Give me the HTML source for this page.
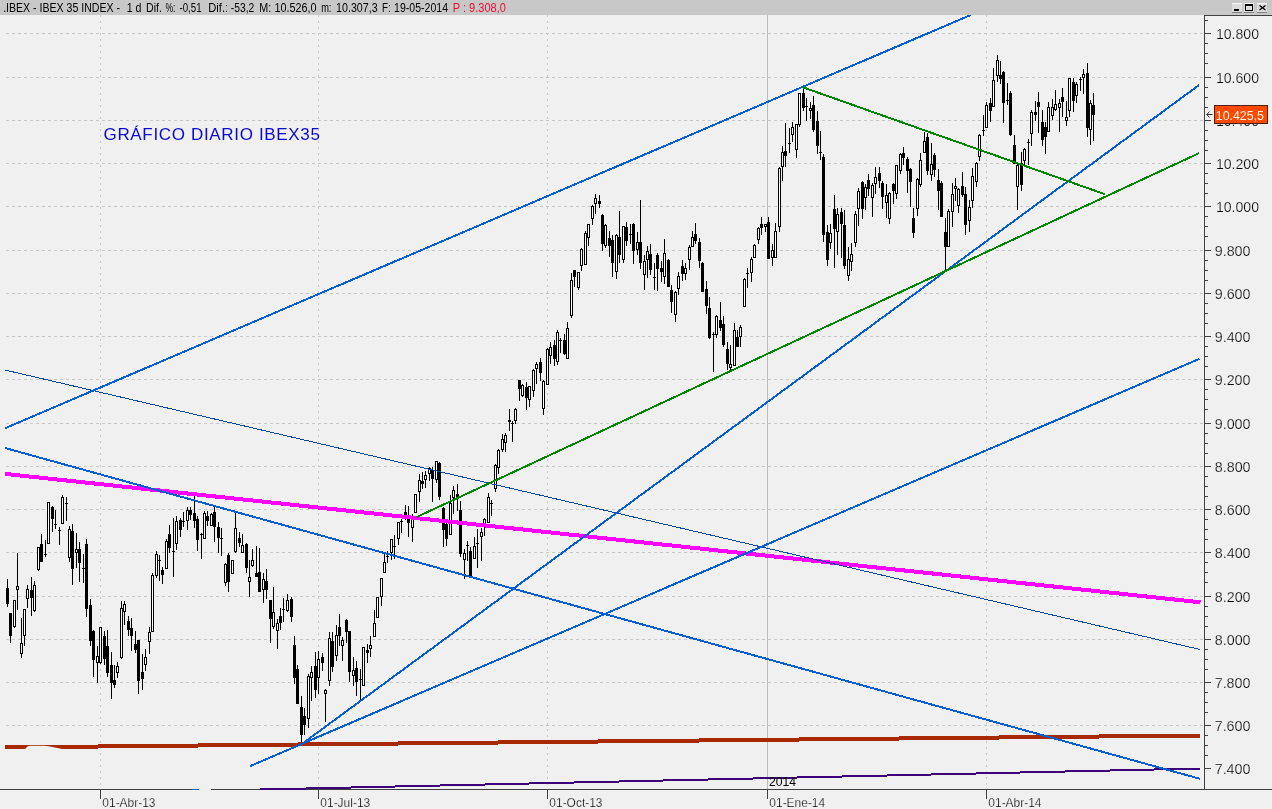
<!DOCTYPE html><html><head><meta charset="utf-8"><title>IBEX 35</title><style>
html,body{margin:0;padding:0;background:#f0f0f0;}
body{width:1272px;height:809px;overflow:hidden;position:relative;}
svg{position:absolute;left:0;top:0;display:block;}
text{font-family:'Liberation Sans', Arial, sans-serif;}
</style></head><body>
<svg width="1272" height="809" viewBox="0 0 1272 809">
<rect x="0" y="0" width="1272" height="809" fill="#f0f0f0"/>
<g stroke="#c8c8c8" stroke-width="1" shape-rendering="crispEdges">
<line x1="6" y1="33.5" x2="1204" y2="33.5" stroke-dasharray="3 3"/>
<line x1="6" y1="77.5" x2="1204" y2="77.5" stroke-dasharray="3 3"/>
<line x1="6" y1="120.5" x2="1204" y2="120.5" stroke-dasharray="3 3"/>
<line x1="6" y1="163.5" x2="1204" y2="163.5" stroke-dasharray="3 3"/>
<line x1="6" y1="206.5" x2="1204" y2="206.5" stroke-dasharray="3 3"/>
<line x1="6" y1="250.5" x2="1204" y2="250.5" stroke-dasharray="3 3"/>
<line x1="6" y1="293.5" x2="1204" y2="293.5" stroke-dasharray="3 3"/>
<line x1="6" y1="336.5" x2="1204" y2="336.5" stroke-dasharray="3 3"/>
<line x1="6" y1="379.5" x2="1204" y2="379.5" stroke-dasharray="3 3"/>
<line x1="6" y1="423.5" x2="1204" y2="423.5" stroke-dasharray="3 3"/>
<line x1="6" y1="466.5" x2="1204" y2="466.5" stroke-dasharray="3 3"/>
<line x1="6" y1="509.5" x2="1204" y2="509.5" stroke-dasharray="3 3"/>
<line x1="6" y1="552.5" x2="1204" y2="552.5" stroke-dasharray="3 3"/>
<line x1="6" y1="596.5" x2="1204" y2="596.5" stroke-dasharray="3 3"/>
<line x1="6" y1="639.5" x2="1204" y2="639.5" stroke-dasharray="3 3"/>
<line x1="6" y1="682.5" x2="1204" y2="682.5" stroke-dasharray="3 3"/>
<line x1="6" y1="725.5" x2="1204" y2="725.5" stroke-dasharray="3 3"/>
<line x1="100.5" y1="15" x2="100.5" y2="789" stroke-dasharray="2 4"/>
<line x1="318.5" y1="15" x2="318.5" y2="789" stroke-dasharray="2 4"/>
<line x1="547.5" y1="15" x2="547.5" y2="789" stroke-dasharray="2 4"/>
<line x1="986.5" y1="15" x2="986.5" y2="789" stroke-dasharray="2 4"/>
</g>
<rect x="767" y="15" width="1" height="774" fill="#bcbcbc" shape-rendering="crispEdges"/>
<g shape-rendering="crispEdges">
<path fill="#000" d="M7 579h1v28h-1zM6 588h3v16h-3zM10 613h1v30h-1zM9 613h3v23h-3zM14 600h1v28h-1zM13 600h3v27h-3zM17 553h1v57h-1zM16 586h3v4h-3zM21 618h1v40h-1zM20 643h3v11h-3zM24 609h1v37h-1zM23 609h3v27h-3zM27 585h1v23h-1zM26 589h3v10h-3zM31 577h1v39h-1zM30 590h3v8h-3zM34 581h1v31h-1zM33 585h3v26h-3zM38 547h1v24h-1zM37 547h3v23h-3zM41 534h1v28h-1zM40 544h3v18h-3zM45 540h1v17h-1zM44 554h3v1h-3zM48 502h1v42h-1zM47 502h3v42h-3zM52 506h1v26h-1zM51 507h3v12h-3zM55 510h1v19h-1zM54 524h3v1h-3zM59 527h1v18h-1zM58 530h3v1h-3zM62 495h1v29h-1zM61 497h3v27h-3zM66 497h1v24h-1zM65 503h3v1h-3zM69 526h1v36h-1zM68 529h3v29h-3zM72 524h1v61h-1zM71 531h3v38h-3zM76 533h1v35h-1zM75 549h3v4h-3zM79 542h1v40h-1zM78 549h3v14h-3zM83 554h1v29h-1zM82 568h3v1h-3zM86 539h1v78h-1zM85 544h3v65h-3zM90 599h1v47h-1zM89 605h3v36h-3zM93 630h1v47h-1zM92 631h3v29h-3zM97 646h1v37h-1zM96 656h3v7h-3zM100 627h1v37h-1zM99 627h3v36h-3zM104 631h1v34h-1zM103 636h3v23h-3zM107 630h1v47h-1zM106 646h3v27h-3zM111 652h1v47h-1zM110 665h3v18h-3zM114 665h1v23h-1zM113 680h3v5h-3zM117 662h1v16h-1zM116 666h3v7h-3zM121 601h1v58h-1zM120 608h3v50h-3zM124 601h1v24h-1zM123 604h3v8h-3zM128 616h1v20h-1zM127 621h3v9h-3zM131 618h1v33h-1zM130 628h3v8h-3zM135 631h1v22h-1zM134 644h3v6h-3zM138 640h1v54h-1zM137 640h3v41h-3zM142 654h1v36h-1zM141 672h3v7h-3zM145 649h1v22h-1zM144 657h3v8h-3zM149 627h1v27h-1zM148 632h3v10h-3zM152 573h1v59h-1zM151 575h3v57h-3zM156 551h1v27h-1zM155 554h3v22h-3zM159 555h1v26h-1zM158 560h3v1h-3zM162 567h1v17h-1zM161 570h3v5h-3zM166 539h1v30h-1zM165 541h3v28h-3zM169 525h1v28h-1zM168 534h3v14h-3zM173 518h1v59h-1zM172 551h3v1h-3zM176 516h1v34h-1zM175 521h3v23h-3zM180 518h1v19h-1zM179 520h3v10h-3zM183 512h1v15h-1zM182 521h3v1h-3zM187 507h1v23h-1zM186 510h3v11h-3zM190 507h1v13h-1zM189 510h3v5h-3zM194 496h1v32h-1zM193 513h3v8h-3zM197 516h1v35h-1zM196 519h3v21h-3zM201 533h1v26h-1zM200 534h3v1h-3zM204 511h1v28h-1zM203 513h3v26h-3zM207 511h1v15h-1zM206 516h3v5h-3zM211 513h1v13h-1zM210 514h3v12h-3zM214 506h1v36h-1zM213 512h3v15h-3zM218 522h1v31h-1zM217 527h3v11h-3zM221 528h1v28h-1zM220 538h3v1h-3zM225 563h1v23h-1zM224 564h3v19h-3zM228 553h1v39h-1zM227 555h3v27h-3zM232 560h1v14h-1zM231 560h3v14h-3zM235 513h1v40h-1zM234 528h3v24h-3zM239 532h1v15h-1zM238 538h3v5h-3zM242 534h1v19h-1zM241 545h3v8h-3zM246 543h1v30h-1zM245 544h3v24h-3zM249 560h1v37h-1zM248 577h3v5h-3zM252 549h1v18h-1zM251 560h3v6h-3zM256 546h1v31h-1zM255 573h3v4h-3zM259 548h1v44h-1zM258 572h3v20h-3zM263 573h1v30h-1zM262 579h3v11h-3zM266 569h1v30h-1zM265 581h3v9h-3zM270 600h1v43h-1zM269 600h3v19h-3zM273 587h1v42h-1zM272 612h3v15h-3zM277 619h1v30h-1zM276 623h3v8h-3zM280 608h1v22h-1zM279 616h3v7h-3zM283 598h1v24h-1zM282 609h3v1h-3zM287 594h1v18h-1zM286 600h3v11h-3zM291 597h1v25h-1zM290 599h3v18h-3zM294 636h1v48h-1zM293 645h3v33h-3zM297 665h1v39h-1zM296 669h3v35h-3zM301 696h1v47h-1zM300 707h3v28h-3zM304 708h1v27h-1zM303 716h3v9h-3zM308 674h1v54h-1zM307 676h3v43h-3zM311 666h1v35h-1zM310 672h3v6h-3zM315 652h1v46h-1zM314 666h3v24h-3zM318 651h1v43h-1zM317 659h3v19h-3zM322 653h1v18h-1zM321 657h3v6h-3zM325 689h1v33h-1zM324 690h3v4h-3zM329 632h1v54h-1zM328 638h3v43h-3zM332 632h1v40h-1zM331 641h3v26h-3zM336 625h1v36h-1zM335 635h3v21h-3zM339 614h1v32h-1zM338 627h3v9h-3zM342 637h1v24h-1zM341 640h3v6h-3zM346 619h1v24h-1zM345 620h3v12h-3zM349 631h1v51h-1zM348 631h3v41h-3zM353 657h1v29h-1zM352 670h3v6h-3zM356 661h1v35h-1zM355 668h3v14h-3zM360 669h1v31h-1zM359 679h3v1h-3zM363 647h1v39h-1zM362 647h3v39h-3zM367 644h1v19h-1zM366 650h3v3h-3zM370 636h1v21h-1zM369 645h3v4h-3zM374 610h1v27h-1zM373 623h3v14h-3zM377 597h1v21h-1zM376 597h3v21h-3zM381 578h1v28h-1zM380 578h3v19h-3zM384 553h1v20h-1zM383 562h3v11h-3zM387 551h1v12h-1zM386 556h3v1h-3zM391 539h1v21h-1zM390 539h3v14h-3zM394 535h1v24h-1zM393 546h3v1h-3zM398 522h1v23h-1zM397 522h3v17h-3zM401 519h1v14h-1zM400 521h3v1h-3zM405 505h1v15h-1zM404 512h3v3h-3zM408 506h1v31h-1zM407 518h3v5h-3zM412 514h1v28h-1zM411 519h3v9h-3zM415 494h1v19h-1zM414 494h3v19h-3zM419 474h1v28h-1zM418 480h3v12h-3zM422 472h1v17h-1zM421 481h3v3h-3zM425 471h1v17h-1zM424 475h3v5h-3zM429 467h1v14h-1zM428 468h3v6h-3zM432 467h1v35h-1zM431 470h3v9h-3zM436 461h1v22h-1zM435 461h3v19h-3zM439 462h1v38h-1zM438 463h3v34h-3zM443 507h1v40h-1zM442 508h3v22h-3zM446 519h1v27h-1zM445 524h3v15h-3zM450 495h1v40h-1zM449 503h3v32h-3zM453 486h1v28h-1zM452 490h3v8h-3zM457 484h1v27h-1zM456 494h3v3h-3zM460 501h1v56h-1zM459 510h3v44h-3zM464 549h1v30h-1zM463 553h3v7h-3zM467 541h1v20h-1zM466 545h3v1h-3zM470 547h1v30h-1zM469 551h3v25h-3zM474 537h1v22h-1zM473 546h3v13h-3zM477 529h1v39h-1zM476 543h3v1h-3zM481 528h1v33h-1zM480 532h3v5h-3zM484 518h1v18h-1zM483 519h3v5h-3zM488 493h1v30h-1zM487 497h3v26h-3zM491 500h1v16h-1zM490 503h3v1h-3zM495 464h1v28h-1zM494 465h3v24h-3zM498 449h1v25h-1zM497 450h3v18h-3zM502 434h1v18h-1zM501 439h3v11h-3zM505 433h1v19h-1zM504 435h3v8h-3zM509 409h1v22h-1zM508 420h3v2h-3zM512 421h1v21h-1zM511 423h3v1h-3zM515 408h1v16h-1zM514 409h3v12h-3zM519 380h1v21h-1zM518 380h3v9h-3zM522 384h1v13h-1zM521 385h3v11h-3zM526 382h1v28h-1zM525 387h3v11h-3zM529 386h1v21h-1zM528 386h3v14h-3zM533 369h1v28h-1zM532 370h3v21h-3zM536 362h1v22h-1zM535 364h3v5h-3zM540 358h1v23h-1zM539 362h3v11h-3zM543 380h1v35h-1zM542 381h3v28h-3zM547 348h1v37h-1zM546 349h3v36h-3zM550 342h1v22h-1zM549 347h3v9h-3zM554 340h1v26h-1zM553 345h3v14h-3zM557 330h1v35h-1zM556 332h3v30h-3zM560 338h1v15h-1zM559 340h3v1h-3zM564 334h1v21h-1zM563 340h3v14h-3zM567 322h1v37h-1zM566 328h3v31h-3zM571 273h1v45h-1zM570 280h3v36h-3zM574 270h1v17h-1zM573 270h3v7h-3zM578 272h1v18h-1zM577 272h3v16h-3zM581 248h1v23h-1zM580 249h3v17h-3zM585 231h1v34h-1zM584 233h3v32h-3zM588 224h1v22h-1zM587 224h3v14h-3zM592 205h1v20h-1zM591 206h3v13h-3zM595 194h1v20h-1zM594 198h3v6h-3zM599 195h1v13h-1zM598 201h3v3h-3zM602 214h1v37h-1zM601 215h3v29h-3zM605 224h1v24h-1zM604 225h3v21h-3zM609 231h1v26h-1zM608 238h3v8h-3zM612 235h1v42h-1zM611 240h3v23h-3zM616 234h1v45h-1zM615 235h3v37h-3zM619 211h1v52h-1zM618 237h3v18h-3zM623 226h1v37h-1zM622 226h3v34h-3zM626 222h1v24h-1zM625 227h3v14h-3zM630 224h1v20h-1zM629 234h3v1h-3zM633 223h1v41h-1zM632 224h3v27h-3zM637 232h1v23h-1zM636 242h3v8h-3zM640 200h1v69h-1zM639 242h3v21h-3zM644 255h1v35h-1zM643 261h3v14h-3zM647 246h1v32h-1zM646 251h3v9h-3zM650 244h1v31h-1zM649 254h3v16h-3zM654 263h1v27h-1zM653 277h3v1h-3zM657 253h1v38h-1zM656 255h3v14h-3zM661 261h1v21h-1zM660 268h3v4h-3zM664 239h1v45h-1zM663 253h3v24h-3zM668 259h1v28h-1zM667 260h3v27h-3zM671 285h1v28h-1zM670 290h3v12h-3zM675 291h1v31h-1zM674 292h3v23h-3zM678 272h1v23h-1zM677 276h3v13h-3zM682 260h1v21h-1zM681 266h3v8h-3zM685 263h1v17h-1zM684 268h3v6h-3zM689 245h1v25h-1zM688 247h3v13h-3zM692 231h1v16h-1zM691 237h3v10h-3zM695 223h1v21h-1zM694 234h3v7h-3zM699 238h1v30h-1zM698 242h3v19h-3zM702 262h1v30h-1zM701 263h3v29h-3zM706 281h1v33h-1zM705 289h3v17h-3zM709 297h1v42h-1zM708 308h3v30h-3zM713 332h1v40h-1zM712 334h3v1h-3zM716 315h1v23h-1zM715 316h3v19h-3zM720 302h1v29h-1zM719 320h3v8h-3zM723 316h1v31h-1zM722 324h3v21h-3zM727 342h1v28h-1zM726 349h3v15h-3zM730 345h1v27h-1zM729 364h3v4h-3zM734 323h1v43h-1zM733 330h3v36h-3zM737 330h1v17h-1zM736 337h3v10h-3zM740 325h1v22h-1zM739 327h3v10h-3zM744 278h1v29h-1zM743 279h3v28h-3zM747 268h1v20h-1zM746 273h3v1h-3zM751 257h1v25h-1zM750 259h3v14h-3zM754 244h1v14h-1zM753 245h3v13h-3zM758 227h1v17h-1zM757 228h3v12h-3zM761 217h1v18h-1zM760 224h3v4h-3zM765 224h1v8h-1zM764 224h3v3h-3zM768 217h1v42h-1zM767 222h3v37h-3zM772 244h1v22h-1zM771 250h3v8h-3zM775 223h1v35h-1zM774 231h3v27h-3zM779 167h1v65h-1zM778 168h3v59h-3zM782 146h1v35h-1zM781 152h3v15h-3zM785 123h1v44h-1zM784 151h3v5h-3zM789 128h1v25h-1zM788 143h3v1h-3zM792 122h1v20h-1zM791 127h3v8h-3zM796 124h1v34h-1zM795 124h3v26h-3zM799 93h1v34h-1zM798 93h3v32h-3zM803 88h1v23h-1zM802 93h3v15h-3zM806 98h1v23h-1zM805 106h3v1h-3zM810 102h1v17h-1zM809 108h3v3h-3zM813 96h1v36h-1zM812 105h3v25h-3zM817 111h1v43h-1zM816 121h3v25h-3zM820 131h1v29h-1zM819 152h3v1h-3zM823 154h1v88h-1zM822 157h3v78h-3zM827 225h1v41h-1zM826 232h3v28h-3zM830 224h1v25h-1zM829 233h3v10h-3zM834 195h1v73h-1zM833 209h3v20h-3zM837 208h1v47h-1zM836 214h3v18h-3zM841 208h1v50h-1zM840 212h3v12h-3zM844 210h1v59h-1zM843 225h3v41h-3zM848 247h1v34h-1zM847 259h3v17h-3zM851 243h1v28h-1zM850 254h3v8h-3zM855 211h1v36h-1zM854 214h3v29h-3zM858 188h1v38h-1zM857 191h3v18h-3zM862 181h1v38h-1zM861 182h3v27h-3zM865 184h1v26h-1zM864 187h3v11h-3zM868 174h1v22h-1zM867 180h3v9h-3zM872 183h1v34h-1zM871 185h3v13h-3zM875 167h1v27h-1zM874 177h3v7h-3zM879 167h1v21h-1zM878 173h3v8h-3zM882 181h1v28h-1zM881 183h3v14h-3zM886 184h1v34h-1zM885 195h3v8h-3zM889 192h1v32h-1zM888 193h3v26h-3zM893 183h1v21h-1zM892 184h3v7h-3zM896 165h1v34h-1zM895 165h3v29h-3zM900 153h1v21h-1zM899 154h3v17h-3zM903 147h1v18h-1zM902 153h3v5h-3zM907 157h1v36h-1zM906 159h3v12h-3zM910 168h1v39h-1zM909 169h3v13h-3zM913 208h1v30h-1zM912 218h3v15h-3zM917 178h1v38h-1zM916 179h3v30h-3zM920 153h1v34h-1zM919 160h3v25h-3zM924 132h1v21h-1zM923 141h3v12h-3zM927 133h1v42h-1zM926 137h3v34h-3zM931 143h1v38h-1zM930 164h3v11h-3zM934 153h1v24h-1zM933 155h3v15h-3zM938 169h1v41h-1zM937 180h3v11h-3zM941 181h1v36h-1zM940 183h3v34h-3zM945 218h1v53h-1zM944 232h3v15h-3zM948 209h1v38h-1zM947 211h3v36h-3zM952 183h1v44h-1zM951 194h3v18h-3zM955 178h1v23h-1zM954 186h3v3h-3zM958 188h1v25h-1zM957 189h3v17h-3zM962 172h1v25h-1zM961 186h3v9h-3zM965 187h1v48h-1zM964 194h3v31h-3zM969 200h1v32h-1zM968 207h3v14h-3zM972 168h1v40h-1zM971 176h3v25h-3zM976 162h1v25h-1zM975 163h3v19h-3zM979 134h1v27h-1zM978 135h3v22h-3zM983 115h1v21h-1zM982 130h3v1h-3zM986 102h1v26h-1zM985 105h3v23h-3zM990 98h1v24h-1zM989 103h3v8h-3zM993 68h1v39h-1zM992 80h3v27h-3zM997 55h1v27h-1zM996 60h3v16h-3zM1000 61h1v23h-1zM999 75h3v4h-3zM1003 71h1v52h-1zM1002 72h3v31h-3zM1007 83h1v22h-1zM1006 100h3v1h-3zM1010 91h1v45h-1zM1009 93h3v42h-3zM1014 135h1v29h-1zM1013 145h3v19h-3zM1017 164h1v46h-1zM1016 165h3v22h-3zM1021 152h1v39h-1zM1020 163h3v22h-3zM1024 148h1v18h-1zM1023 149h3v12h-3zM1028 139h1v26h-1zM1027 142h3v1h-3zM1031 110h1v36h-1zM1030 112h3v22h-3zM1035 101h1v20h-1zM1034 112h3v3h-3zM1038 92h1v41h-1zM1037 102h3v5h-3zM1042 110h1v36h-1zM1041 122h3v18h-3zM1045 122h1v32h-1zM1044 127h3v10h-3zM1048 102h1v30h-1zM1047 107h3v25h-3zM1052 99h1v21h-1zM1051 107h3v9h-3zM1055 90h1v21h-1zM1054 104h3v6h-3zM1059 99h1v33h-1zM1058 103h3v5h-3zM1062 88h1v29h-1zM1061 97h3v5h-3zM1066 101h1v25h-1zM1065 117h3v4h-3zM1069 78h1v39h-1zM1068 78h3v33h-3zM1073 78h1v34h-1zM1072 82h3v19h-3zM1076 82h1v21h-1zM1075 84h3v12h-3zM1080 77h1v14h-1zM1079 79h3v1h-3zM1083 69h1v25h-1zM1082 74h3v4h-3zM1087 63h1v74h-1zM1086 73h3v55h-3zM1090 100h1v45h-1zM1089 103h3v27h-3zM1093 93h1v48h-1zM1092 105h3v10h-3z"/>
<path fill="#fff" d="M14 601h1v25h-1zM17 587h1v2h-1zM21 644h1v9h-1zM24 610h1v25h-1zM27 590h1v8h-1zM34 586h1v24h-1zM38 548h1v21h-1zM48 503h1v40h-1zM62 498h1v25h-1zM69 530h1v27h-1zM76 550h1v2h-1zM97 657h1v5h-1zM100 628h1v34h-1zM117 667h1v5h-1zM121 609h1v48h-1zM124 605h1v6h-1zM145 658h1v6h-1zM149 633h1v8h-1zM152 576h1v55h-1zM156 555h1v20h-1zM166 542h1v26h-1zM176 522h1v21h-1zM187 511h1v9h-1zM204 514h1v24h-1zM211 515h1v10h-1zM225 565h1v17h-1zM232 561h1v12h-1zM235 529h1v22h-1zM242 546h1v6h-1zM249 578h1v3h-1zM252 561h1v4h-1zM263 580h1v9h-1zM273 613h1v13h-1zM277 624h1v6h-1zM287 601h1v9h-1zM308 677h1v41h-1zM311 673h1v4h-1zM318 660h1v17h-1zM325 691h1v2h-1zM329 639h1v41h-1zM336 636h1v19h-1zM342 641h1v4h-1zM353 671h1v4h-1zM363 648h1v37h-1zM370 646h1v2h-1zM374 624h1v12h-1zM377 598h1v19h-1zM381 579h1v17h-1zM384 563h1v9h-1zM391 540h1v12h-1zM398 523h1v15h-1zM412 520h1v7h-1zM415 495h1v17h-1zM419 481h1v10h-1zM425 476h1v3h-1zM429 469h1v4h-1zM436 462h1v17h-1zM450 504h1v30h-1zM453 491h1v6h-1zM464 554h1v5h-1zM474 547h1v11h-1zM481 533h1v3h-1zM484 520h1v3h-1zM488 498h1v24h-1zM495 466h1v22h-1zM498 451h1v16h-1zM502 440h1v9h-1zM505 436h1v6h-1zM515 410h1v10h-1zM522 386h1v9h-1zM529 387h1v12h-1zM533 371h1v19h-1zM536 365h1v3h-1zM543 382h1v26h-1zM547 350h1v34h-1zM550 348h1v7h-1zM557 333h1v28h-1zM567 329h1v29h-1zM571 281h1v34h-1zM578 273h1v14h-1zM581 250h1v15h-1zM585 234h1v30h-1zM588 225h1v12h-1zM592 207h1v11h-1zM595 199h1v4h-1zM605 226h1v19h-1zM616 236h1v35h-1zM623 227h1v32h-1zM637 243h1v6h-1zM644 262h1v12h-1zM647 252h1v7h-1zM664 254h1v22h-1zM675 293h1v21h-1zM678 277h1v11h-1zM685 269h1v4h-1zM689 248h1v11h-1zM692 238h1v8h-1zM716 317h1v17h-1zM730 365h1v2h-1zM734 331h1v34h-1zM740 328h1v8h-1zM744 280h1v26h-1zM751 260h1v12h-1zM754 246h1v11h-1zM758 229h1v10h-1zM765 225h1v1h-1zM772 251h1v6h-1zM775 232h1v25h-1zM779 169h1v57h-1zM782 153h1v13h-1zM792 128h1v6h-1zM796 125h1v24h-1zM799 94h1v30h-1zM810 109h1v1h-1zM830 234h1v8h-1zM837 215h1v16h-1zM848 260h1v15h-1zM851 255h1v6h-1zM855 215h1v27h-1zM858 192h1v16h-1zM865 188h1v9h-1zM872 186h1v11h-1zM875 178h1v5h-1zM886 196h1v6h-1zM889 194h1v24h-1zM896 166h1v27h-1zM900 155h1v15h-1zM917 180h1v28h-1zM920 161h1v23h-1zM924 142h1v10h-1zM931 165h1v9h-1zM948 212h1v34h-1zM952 195h1v16h-1zM955 187h1v1h-1zM958 190h1v15h-1zM969 208h1v12h-1zM972 177h1v23h-1zM976 164h1v17h-1zM979 136h1v20h-1zM986 106h1v21h-1zM993 81h1v25h-1zM997 61h1v14h-1zM1017 166h1v20h-1zM1024 150h1v10h-1zM1031 113h1v20h-1zM1048 108h1v23h-1zM1052 108h1v7h-1zM1055 105h1v4h-1zM1059 104h1v3h-1zM1066 118h1v2h-1zM1069 79h1v31h-1zM1076 85h1v10h-1zM1083 75h1v2h-1zM1090 104h1v25h-1z"/>
</g>
<path fill="#a82800" shape-rendering="crispEdges" d="M5 745h93v4h-93zM98 744h100v4h-100zM198 743h100v4h-100zM298 742h100v4h-100zM398 741h100v4h-100zM498 740h100v4h-100zM598 739h101v4h-101zM699 738h100v4h-100zM799 737h100v4h-100zM899 736h100v4h-100zM999 735h100v4h-100zM1099 734h101v4h-101z"/>
<path fill="#3c0078" shape-rendering="crispEdges" d="M260 788h1v2h-1zM261 788h45v2h-45zM306 787h45v2h-45zM351 786h44v2h-44zM395 785h45v2h-45zM440 784h45v2h-45zM485 783h44v2h-44zM529 782h45v2h-45zM574 781h45v2h-45zM619 780h44v2h-44zM663 779h45v2h-45zM708 778h45v2h-45zM753 777h44v2h-44zM797 776h45v2h-45zM842 775h45v2h-45zM887 774h44v2h-44zM931 773h45v2h-45zM976 772h44v2h-44zM1020 771h45v2h-45zM1065 770h45v2h-45zM1110 769h44v2h-44zM1154 768h46v2h-46z"/>
<path d="M25 749.5 C27 746.5 28 745.8 30 745.8 L44 745.8 C50 746.3 57 747.8 64 749.5 Z" fill="#f0f0f0"/>
<g shape-rendering="crispEdges">
<line x1="5.0" y1="473.9" x2="1200.5" y2="602.3" stroke="#ff00ff" stroke-width="4"/>
</g>
<g stroke-linecap="butt" shape-rendering="crispEdges">
<line x1="5.0" y1="370.0" x2="1200.0" y2="649.5" stroke="#0a48a8" stroke-width="1"/>
<line x1="5.0" y1="448.0" x2="1200.0" y2="778.8" stroke="#0660d4" stroke-width="2"/>
<line x1="5.0" y1="428.3" x2="970.4" y2="15.1" stroke="#0660d4" stroke-width="2"/>
<line x1="250.3" y1="766.0" x2="1199.3" y2="358.9" stroke="#0660d4" stroke-width="2"/>
<line x1="304.3" y1="742.2" x2="1199.1" y2="85.0" stroke="#0660d4" stroke-width="2"/>
<line x1="416.5" y1="517.1" x2="1199.1" y2="153.1" stroke="#008800" stroke-width="2"/>
<line x1="802.4" y1="87.1" x2="1105.1" y2="194.3" stroke="#008800" stroke-width="2"/>
</g>
<text x="103.49" y="140" font-size="17" fill="#0a0ad2" textLength="216.47" lengthAdjust="spacing">GRÁFICO DIARIO IBEX35</text>
<rect x="0" y="0" width="1272" height="15" fill="#c8c8c8"/>
<g font-size="12" fill="#000">
<text x="3.13" y="12" textLength="116.94" lengthAdjust="spacingAndGlyphs">.IBEX - IBEX 35 INDEX -</text>
<text x="126.69" y="12" textLength="14.80" lengthAdjust="spacingAndGlyphs">1 d</text>
<text x="146.03" y="12" textLength="15.94" lengthAdjust="spacingAndGlyphs">Dif.</text>
<text x="165.49" y="12" textLength="9.99" lengthAdjust="spacingAndGlyphs">%:</text>
<text x="179.47" y="12" textLength="22.10" lengthAdjust="spacingAndGlyphs">-0,51</text>
<text x="208.28" y="12" textLength="19.83" lengthAdjust="spacingAndGlyphs">Dif.:</text>
<text x="230.84" y="12" textLength="23.48" lengthAdjust="spacingAndGlyphs">-53,2</text>
<text x="259.22" y="12" textLength="11.97" lengthAdjust="spacingAndGlyphs">M:</text>
<text x="274.38" y="12" textLength="42.15" lengthAdjust="spacingAndGlyphs">10.526,0</text>
<text x="321.19" y="12" textLength="10.26" lengthAdjust="spacingAndGlyphs">m:</text>
<text x="336.09" y="12" textLength="41.48" lengthAdjust="spacingAndGlyphs">10.307,3</text>
<text x="382.00" y="12" textLength="8.70" lengthAdjust="spacingAndGlyphs">F:</text>
<text x="394.10" y="12" textLength="53.91" lengthAdjust="spacingAndGlyphs">19-05-2014</text>
</g>
<text x="452.80" y="12" font-size="12" fill="#e81030" textLength="53.03" lengthAdjust="spacingAndGlyphs">P : 9.308,0</text>
<rect x="1232" y="3" width="10" height="10" fill="#dcdcdc" shape-rendering="crispEdges"/>
<rect x="1232" y="3" width="10" height="1" fill="#f8f8f8" shape-rendering="crispEdges"/>
<rect x="1232" y="12" width="10" height="1" fill="#808080" shape-rendering="crispEdges"/>
<rect x="1244" y="3" width="10" height="10" fill="#dcdcdc" shape-rendering="crispEdges"/>
<rect x="1244" y="3" width="10" height="1" fill="#f8f8f8" shape-rendering="crispEdges"/>
<rect x="1244" y="12" width="10" height="1" fill="#808080" shape-rendering="crispEdges"/>
<rect x="1257" y="3" width="10" height="10" fill="#dcdcdc" shape-rendering="crispEdges"/>
<rect x="1257" y="3" width="10" height="1" fill="#f8f8f8" shape-rendering="crispEdges"/>
<rect x="1257" y="12" width="10" height="1" fill="#808080" shape-rendering="crispEdges"/>
<rect x="1234" y="9" width="5" height="2" fill="#000" shape-rendering="crispEdges"/>
<rect x="1245.5" y="4.5" width="7" height="6" fill="none" stroke="#000" stroke-width="1" shape-rendering="crispEdges"/>
<rect x="1245" y="4" width="8" height="2" fill="#000" shape-rendering="crispEdges"/>
<path d="M1259.5 5.5 L1265.5 10 M1265.5 5.5 L1259.5 10" stroke="#000" stroke-width="1.3"/>
<g fill="#404040" shape-rendering="crispEdges">
<rect x="1204" y="15" width="68" height="1"/>
<rect x="1204" y="15" width="1" height="775"/>
<rect x="0" y="789" width="199" height="1"/>
<rect x="211" y="789" width="1061" height="1"/>
<rect x="1205" y="33" width="6" height="1"/>
<rect x="1205" y="43" width="3" height="1"/>
<rect x="1205" y="53" width="3" height="1"/>
<rect x="1205" y="63" width="3" height="1"/>
<rect x="1205" y="77" width="6" height="1"/>
<rect x="1205" y="87" width="3" height="1"/>
<rect x="1205" y="97" width="3" height="1"/>
<rect x="1205" y="107" width="3" height="1"/>
<rect x="1205" y="120" width="6" height="1"/>
<rect x="1205" y="130" width="3" height="1"/>
<rect x="1205" y="140" width="3" height="1"/>
<rect x="1205" y="150" width="3" height="1"/>
<rect x="1205" y="163" width="6" height="1"/>
<rect x="1205" y="173" width="3" height="1"/>
<rect x="1205" y="183" width="3" height="1"/>
<rect x="1205" y="193" width="3" height="1"/>
<rect x="1205" y="206" width="6" height="1"/>
<rect x="1205" y="216" width="3" height="1"/>
<rect x="1205" y="226" width="3" height="1"/>
<rect x="1205" y="236" width="3" height="1"/>
<rect x="1205" y="250" width="6" height="1"/>
<rect x="1205" y="260" width="3" height="1"/>
<rect x="1205" y="270" width="3" height="1"/>
<rect x="1205" y="280" width="3" height="1"/>
<rect x="1205" y="293" width="6" height="1"/>
<rect x="1205" y="303" width="3" height="1"/>
<rect x="1205" y="313" width="3" height="1"/>
<rect x="1205" y="323" width="3" height="1"/>
<rect x="1205" y="336" width="6" height="1"/>
<rect x="1205" y="346" width="3" height="1"/>
<rect x="1205" y="356" width="3" height="1"/>
<rect x="1205" y="366" width="3" height="1"/>
<rect x="1205" y="379" width="6" height="1"/>
<rect x="1205" y="389" width="3" height="1"/>
<rect x="1205" y="399" width="3" height="1"/>
<rect x="1205" y="409" width="3" height="1"/>
<rect x="1205" y="423" width="6" height="1"/>
<rect x="1205" y="433" width="3" height="1"/>
<rect x="1205" y="443" width="3" height="1"/>
<rect x="1205" y="453" width="3" height="1"/>
<rect x="1205" y="466" width="6" height="1"/>
<rect x="1205" y="476" width="3" height="1"/>
<rect x="1205" y="486" width="3" height="1"/>
<rect x="1205" y="496" width="3" height="1"/>
<rect x="1205" y="509" width="6" height="1"/>
<rect x="1205" y="519" width="3" height="1"/>
<rect x="1205" y="529" width="3" height="1"/>
<rect x="1205" y="539" width="3" height="1"/>
<rect x="1205" y="552" width="6" height="1"/>
<rect x="1205" y="562" width="3" height="1"/>
<rect x="1205" y="572" width="3" height="1"/>
<rect x="1205" y="582" width="3" height="1"/>
<rect x="1205" y="596" width="6" height="1"/>
<rect x="1205" y="606" width="3" height="1"/>
<rect x="1205" y="616" width="3" height="1"/>
<rect x="1205" y="626" width="3" height="1"/>
<rect x="1205" y="639" width="6" height="1"/>
<rect x="1205" y="649" width="3" height="1"/>
<rect x="1205" y="659" width="3" height="1"/>
<rect x="1205" y="669" width="3" height="1"/>
<rect x="1205" y="682" width="6" height="1"/>
<rect x="1205" y="692" width="3" height="1"/>
<rect x="1205" y="702" width="3" height="1"/>
<rect x="1205" y="712" width="3" height="1"/>
<rect x="1205" y="725" width="6" height="1"/>
<rect x="1205" y="735" width="3" height="1"/>
<rect x="1205" y="745" width="3" height="1"/>
<rect x="1205" y="755" width="3" height="1"/>
<rect x="1205" y="768" width="6" height="1"/>
<rect x="1205" y="20" width="3" height="1"/>
<rect x="100" y="790" width="1" height="9"/>
<rect x="318" y="790" width="1" height="9"/>
<rect x="547" y="790" width="1" height="9"/>
<rect x="767" y="790" width="1" height="9"/>
<rect x="986" y="790" width="1" height="9"/>
</g>
<rect x="192" y="789" width="7" height="1" fill="#0660d4"/>
<rect x="260" y="788" width="46" height="2" fill="#3c0078" shape-rendering="crispEdges"/>
<g font-size="15" fill="#000" stroke="#f0f0f0" stroke-width="0.25">
<text x="1215.93" y="39" textLength="43.12" lengthAdjust="spacingAndGlyphs">10.800</text>
<text x="1215.93" y="83" textLength="43.12" lengthAdjust="spacingAndGlyphs">10.600</text>
<text x="1215.93" y="126" textLength="43.12" lengthAdjust="spacingAndGlyphs">10.400</text>
<text x="1215.93" y="169" textLength="43.12" lengthAdjust="spacingAndGlyphs">10.200</text>
<text x="1215.93" y="212" textLength="43.12" lengthAdjust="spacingAndGlyphs">10.000</text>
<text x="1214.73" y="256" textLength="35.83" lengthAdjust="spacingAndGlyphs">9.800</text>
<text x="1214.73" y="299" textLength="35.83" lengthAdjust="spacingAndGlyphs">9.600</text>
<text x="1214.73" y="342" textLength="35.83" lengthAdjust="spacingAndGlyphs">9.400</text>
<text x="1214.73" y="385" textLength="35.83" lengthAdjust="spacingAndGlyphs">9.200</text>
<text x="1214.73" y="429" textLength="35.83" lengthAdjust="spacingAndGlyphs">9.000</text>
<text x="1214.78" y="472" textLength="35.78" lengthAdjust="spacingAndGlyphs">8.800</text>
<text x="1214.78" y="515" textLength="35.78" lengthAdjust="spacingAndGlyphs">8.600</text>
<text x="1214.78" y="558" textLength="35.78" lengthAdjust="spacingAndGlyphs">8.400</text>
<text x="1214.78" y="602" textLength="35.78" lengthAdjust="spacingAndGlyphs">8.200</text>
<text x="1214.78" y="645" textLength="35.78" lengthAdjust="spacingAndGlyphs">8.000</text>
<text x="1214.66" y="688" textLength="35.90" lengthAdjust="spacingAndGlyphs">7.800</text>
<text x="1214.66" y="731" textLength="35.90" lengthAdjust="spacingAndGlyphs">7.600</text>
<text x="1214.66" y="774" textLength="35.90" lengthAdjust="spacingAndGlyphs">7.400</text>
</g>
<g font-size="13" fill="#000" stroke="#f0f0f0" stroke-width="0.25">
<text x="102.33" y="807" textLength="53.18" lengthAdjust="spacingAndGlyphs">01-Abr-13</text>
<text x="320.33" y="807" textLength="49.86" lengthAdjust="spacingAndGlyphs">01-Jul-13</text>
<text x="549.33" y="807" textLength="53.18" lengthAdjust="spacingAndGlyphs">01-Oct-13</text>
<text x="769.33" y="807" textLength="55.85" lengthAdjust="spacingAndGlyphs">01-Ene-14</text>
<text x="988.33" y="807" textLength="53.18" lengthAdjust="spacingAndGlyphs">01-Abr-14</text>
</g>
<text x="769.09" y="786" font-size="12" textLength="27.07" lengthAdjust="spacingAndGlyphs">2014</text>
<path d="M1207 114.5 L1212.5 114.5 M1209.5 111.5 L1206.8 114.5 L1209.5 117.5" stroke="#303030" stroke-width="1" fill="none"/>
<rect x="1214.5" y="105.5" width="53" height="18" fill="#ff4800" stroke="#502010" stroke-width="1"/>
<text x="1215.76" y="120" font-size="13" fill="#fff8e8" textLength="48.16" lengthAdjust="spacingAndGlyphs">10.425,5</text>
</svg></body></html>
